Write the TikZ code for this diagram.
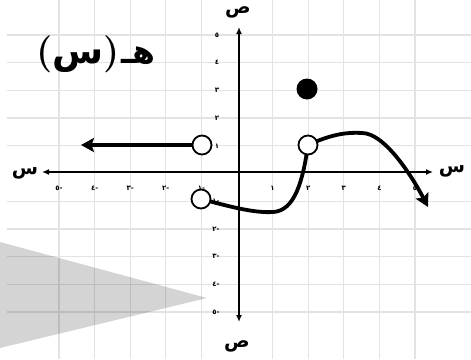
\documentclass[tikz,border=0pt]{standalone}
\usepackage{fontspec}
\newfontfamily\arabicfont[Script=Arabic]{DejaVu Sans}
\usetikzlibrary{arrows.meta}
\begin{document}
\begin{tikzpicture}[x=1pt,y=-1pt,
 gridline/.style={draw=black!11, line width=1.3pt},
 axisline/.style={draw=black, line width=1.8pt, {Latex[length=7pt,width=6pt]}-{Latex[length=7pt,width=6pt]}},
 curve/.style={line width=3.8pt, line cap=round},
 bigtip/.style={-{Stealth[length=13pt,width=14pt,inset=2.5pt]}},
 opendot/.style={circle, draw, line width=1.8pt, fill=white, minimum size=19pt, inner sep=0pt},
 filldot/.style={circle, fill=black, minimum size=21pt, inner sep=0pt},
 ticklbl/.style={font=\arabicfont\bfseries\fontsize{7}{7}\selectfont, inner sep=0pt},
 axislbl/.style={font=\arabicfont\bfseries\fontsize{19}{19}\selectfont, inner sep=0pt},
]
\useasboundingbox (0,0) rectangle (471,359);
% grid
\foreach \k in {-5,-4,-3,-2,-1,1,2,3,4,5}{
  \draw[gridline] ({237+35.6*\k},0) -- ({237+35.6*\k},359);
  \draw[gridline] (7,{173.5-27.7*\k}) -- (471,{173.5-27.7*\k});
}
% shaded triangle
\fill[black, opacity=0.17] (0,242) -- (207,298) -- (0,348) -- cycle;
% axes
\coordinate (xl) at (42,172);
\coordinate (xr) at (433,172);
\coordinate (yt) at (239,27);
\coordinate (yb) at (239,322);
\draw[axisline] (xl) -- (xr);
\draw[axisline] (yt) -- (yb);
\node[axislbl] (lxl) at (25,173) {س};
\node[axislbl] (lxr) at (452,171) {س};
\node[axislbl] (lyt) at (238,12) {ص};
\node[axislbl] (lyb) at (237,346) {ص};
% tick labels
\foreach \k/\d in {1/١,2/٢,3/٣,4/٤,5/٥}{
  \node[ticklbl] (xp\k) at ({237+35.6*\k},188) {\d};
  \node[ticklbl] (xn\k) at ({237-35.6*\k},188) {\hbox{\d}\hbox{-}};
  \node[ticklbl] (yp\k) at (217,{173.5-27.7*\k}) {\d};
  \node[ticklbl] (yn\k) at (216,{173.5+27.7*\k}) {\hbox{\d}\hbox{-}};
}
% title
\node[inner sep=0pt, font=\fontsize{37}{37}\selectfont\bfseries] (title) at (96,54)
  {({\arabicfont س})\kern1pt{\arabicfont\fontsize{33}{33}\selectfont هـ}};
% points
\coordinate (pA) at (201,199);
\coordinate (pC) at (308,145);
\coordinate (pL) at (202,145);
\coordinate (tipL) at (81,145);
\coordinate (tipB) at (428,207);
\draw[curve] (pA) .. controls (235,208) and (255,213) .. (273,212)
  .. controls (295,211) and (303,180) .. (pC);
\draw[curve, bigtip] (pC) .. controls (330,135) and (345,132) .. (362,133)
  .. controls (385,133) and (413,178) .. (tipB);
\draw[curve, bigtip] (pL) -- (tipL);
\node[opendot] (cA) at (pA) {};
\node[opendot] (cC) at (pC) {};
\node[opendot] (cL) at (pL) {};
\node[filldot] (dot) at (307,89) {};
\end{tikzpicture}
\end{document}
